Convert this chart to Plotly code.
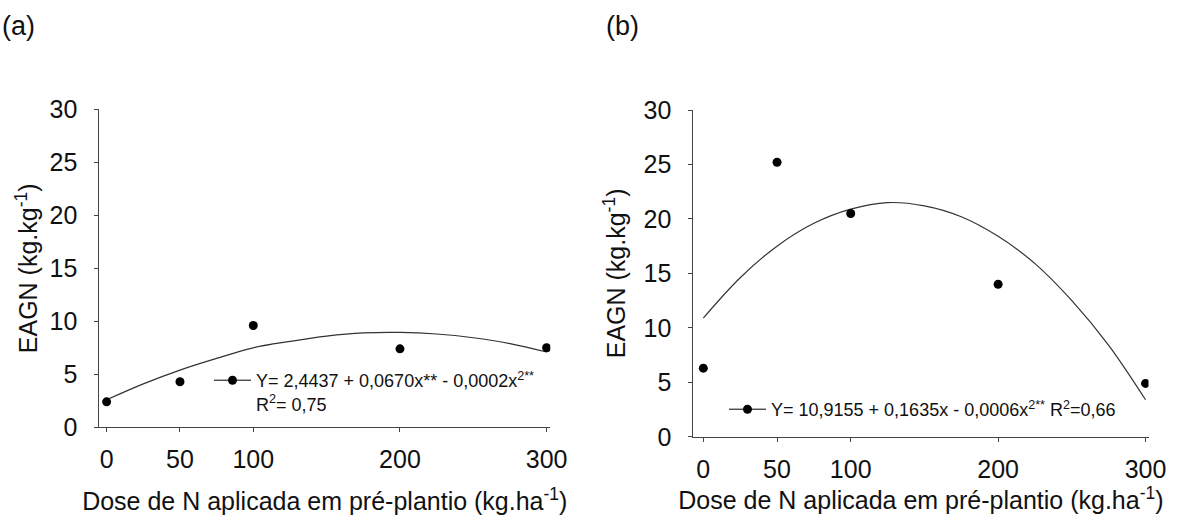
import plotly.graph_objects as go

# ---- data ----
dose = [0, 50, 100, 200, 300]
eagn_a = [2.4, 4.3, 9.6, 7.4, 7.5]
eagn_b = [6.3, 25.2, 20.5, 14.0, 4.9]

curve_x = [0, 25, 50, 75, 100, 125, 150, 175, 200, 225, 250, 275, 300]
curve_a = [2.6, 4.1, 5.4, 6.5, 7.5, 8.1, 8.6, 8.9, 8.95, 8.8, 8.45, 7.9, 7.1]
curve_b = [10.9, 14.6, 17.5, 19.6, 20.9, 21.5, 21.2, 20.2, 18.4, 15.9, 12.5, 8.4, 3.4]

x_ticks = [0, 50, 100, 200, 300]
y_ticks = [0, 5, 10, 15, 20, 25, 30]

legend_a = "Y= 2,4437 + 0,0670x** - 0,0002x<sup>2**</sup><br>R<sup>2</sup>= 0,75"
legend_b = "Y= 10,9155 + 0,1635x - 0,0006x<sup>2**</sup> R<sup>2</sup>=0,66"
x_title = "Dose de N aplicada em pré-plantio (kg.ha<sup>-1</sup>)"
y_title = "EAGN (kg.kg<sup>-1</sup>)"

FONT = "Arial, Liberation Sans, sans-serif"
W, H = 1179, 516

fig = go.Figure()

# panel (a)
fig.add_trace(go.Scatter(x=curve_x, y=curve_a, mode="lines", line=dict(color="#333333", width=1.2, shape="spline"),
                         showlegend=False, xaxis="x", yaxis="y", hoverinfo="skip"))
fig.add_trace(go.Scatter(x=dose, y=eagn_a, mode="markers", marker=dict(color="black", size=9),
                         showlegend=False, xaxis="x", yaxis="y"))
fig.add_trace(go.Scatter(x=[None], y=[None], mode="lines+markers", name=legend_a,
                         line=dict(color="black", width=1), marker=dict(color="black", size=9),
                         legend="legend", xaxis="x", yaxis="y"))

# panel (b)
fig.add_trace(go.Scatter(x=curve_x, y=curve_b, mode="lines", line=dict(color="#333333", width=1.2, shape="spline"),
                         showlegend=False, xaxis="x2", yaxis="y2", hoverinfo="skip"))
fig.add_trace(go.Scatter(x=dose, y=eagn_b, mode="markers", marker=dict(color="black", size=9),
                         showlegend=False, xaxis="x2", yaxis="y2"))
fig.add_trace(go.Scatter(x=[None], y=[None], mode="lines+markers", name=legend_b,
                         line=dict(color="black", width=1), marker=dict(color="black", size=9),
                         legend="legend2", xaxis="x2", yaxis="y2"))

def px_x(p):
    return p / W

def px_y(p):
    return (H - p) / H

axis_common = dict(showgrid=False, zeroline=False, showline=True, linecolor="#444444", linewidth=1,
                   ticks="outside", ticklen=4, tickcolor="#444444", tickwidth=1, automargin=False,
                   tickfont=dict(family=FONT, size=25, color="#111111"))

fig.update_layout(
    width=W, height=H,
    margin=dict(l=0, r=0, t=0, b=0, autoexpand=False),
    paper_bgcolor="white", plot_bgcolor="white",
    font=dict(family=FONT, color="#111111"),
    xaxis=dict(axis_common, domain=[px_x(99.3), px_x(550.3)], range=[-5, 302.5], tickvals=x_ticks,
               anchor="y", ticklabelstandoff=6,
               title=dict(text=x_title, font=dict(family=FONT, size=25), standoff=20)),
    yaxis=dict(axis_common, domain=[px_y(427.3), px_y(109.3)], range=[0, 30], tickvals=y_ticks,
               anchor="x", ticklabelstandoff=12,
               title=dict(text=y_title, font=dict(family=FONT, size=25), standoff=4)),
    xaxis2=dict(axis_common, domain=[px_x(693.3), px_x(1148.5)], range=[-6.8, 302], tickvals=x_ticks,
                anchor="y2", ticklabelstandoff=6,
                title=dict(text=x_title, font=dict(family=FONT, size=25), standoff=0)),
    yaxis2=dict(axis_common, domain=[px_y(436.8), px_y(110)], range=[0, 30], tickvals=y_ticks,
                anchor="x2", ticklabelstandoff=12,
                title=dict(text=y_title, font=dict(family=FONT, size=25), standoff=10)),
    legend=dict(x=px_x(209), y=px_y(362), xanchor="left", yanchor="top", bgcolor="rgba(0,0,0,0)",
                font=dict(family=FONT, size=18, color="#111111"), valign="top", itemwidth=37,
                tracegroupgap=0),
    legend2=dict(x=px_x(724), y=px_y(391), xanchor="left", yanchor="top", bgcolor="rgba(0,0,0,0)",
                 font=dict(family=FONT, size=18, color="#111111"), valign="top", itemwidth=37,
                 tracegroupgap=0),
    annotations=[
        dict(text="(a)", x=0, y=px_y(26), xref="paper", yref="paper", xanchor="left", yanchor="middle",
             showarrow=False, font=dict(family=FONT, size=27, color="#111111")),
        dict(text="(b)", x=px_x(604), y=px_y(26), xref="paper", yref="paper", xanchor="left", yanchor="middle",
             showarrow=False, font=dict(family=FONT, size=27, color="#111111")),
    ],
    showlegend=True,
)

fig.write_html("out.html")
